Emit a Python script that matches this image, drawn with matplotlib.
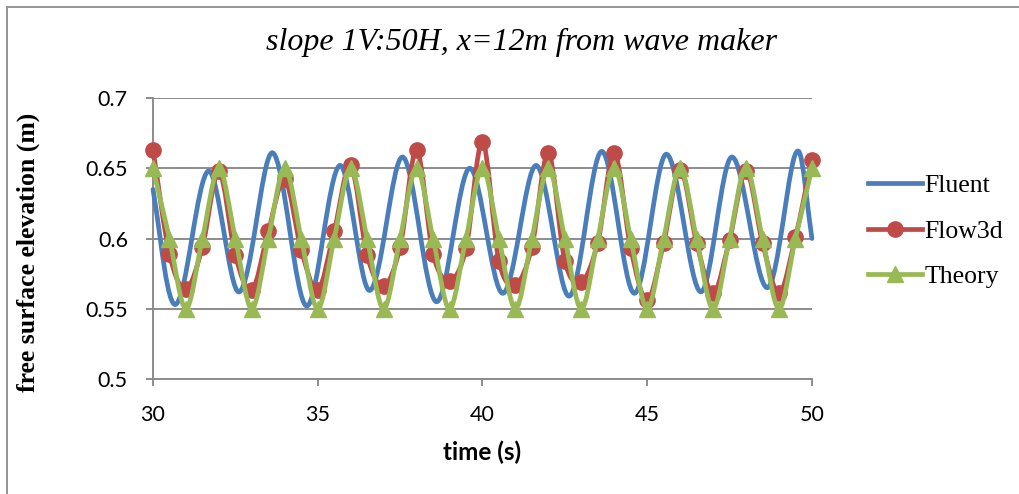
import numpy as np
import matplotlib
matplotlib.use("Agg")
import matplotlib.pyplot as plt
from matplotlib.path import Path
from matplotlib.patches import PathPatch, Rectangle
from matplotlib.lines import Line2D

# ----------------------------------------------------------------------
# Data
# ----------------------------------------------------------------------
# Fluent: crests, troughs and mean-level crossings of the simulated trace
fluent_t = [30.00, 30.22, 30.67, 31.18, 31.68, 32.15, 32.62, 33.13, 33.63, 34.15,
            34.66, 35.17, 35.67, 36.13, 36.58, 37.08, 37.58, 38.09, 38.60, 39.11,
            39.61, 40.12, 40.62, 41.13, 41.63, 42.14, 42.64, 43.13, 43.62, 44.12,
            44.61, 45.10, 45.58, 46.11, 46.63, 47.10, 47.57, 48.11, 48.65, 49.13,
            49.60, 50.00]
fluent_v = [0.635, 0.600, 0.553, 0.600, 0.648, 0.605, 0.562, 0.611, 0.661, 0.606,
            0.552, 0.602, 0.652, 0.607, 0.563, 0.610, 0.658, 0.606, 0.555, 0.602,
            0.650, 0.605, 0.561, 0.606, 0.652, 0.605, 0.559, 0.610, 0.662, 0.611,
            0.561, 0.610, 0.660, 0.611, 0.562, 0.610, 0.658, 0.611, 0.565, 0.613,
            0.662, 0.600]

# Flow3d and Theory: sampled every 0.5 s
sample_t = [30.0, 30.5, 31.0, 31.5, 32.0, 32.5, 33.0, 33.5, 34.0, 34.5,
            35.0, 35.5, 36.0, 36.5, 37.0, 37.5, 38.0, 38.5, 39.0, 39.5,
            40.0, 40.5, 41.0, 41.5, 42.0, 42.5, 43.0, 43.5, 44.0, 44.5,
            45.0, 45.5, 46.0, 46.5, 47.0, 47.5, 48.0, 48.5, 49.0, 49.5, 50.0]
flow3d_v = [0.663, 0.589, 0.564, 0.594, 0.648, 0.588, 0.563, 0.605, 0.642, 0.592,
            0.563, 0.605, 0.652, 0.588, 0.566, 0.594, 0.663, 0.589, 0.570, 0.593,
            0.669, 0.584, 0.567, 0.594, 0.661, 0.584, 0.569, 0.597, 0.661, 0.593,
            0.556, 0.597, 0.649, 0.597, 0.561, 0.599, 0.648, 0.597, 0.561, 0.601,
            0.656]
theory_v = [0.65, 0.60, 0.55, 0.60, 0.65, 0.60, 0.55, 0.60, 0.65, 0.60,
            0.55, 0.60, 0.65, 0.60, 0.55, 0.60, 0.65, 0.60, 0.55, 0.60,
            0.65, 0.60, 0.55, 0.60, 0.65, 0.60, 0.55, 0.60, 0.65, 0.60,
            0.55, 0.60, 0.65, 0.60, 0.55, 0.60, 0.65, 0.60, 0.55, 0.60,
            0.65]

x_ticks = [30, 35, 40, 45, 50]
y_ticks = [0.5, 0.55, 0.6, 0.65, 0.7]
y_tick_labels = ["0.5", "0.55", "0.6", "0.65", "0.7"]

C_FLUENT = "#4A7EBB"
C_FLOW3D = "#BE4B48"
C_THEORY = "#98B954"
C_GRID = "#8C8C8C"


def smooth_path(t, v, k=1.0):
    """Excel-like smoothed line: cubic Bezier through the points."""
    t = np.asarray(t, float)
    v = np.asarray(v, float)
    m = np.empty(len(t))
    m[1:-1] = k * (v[2:] - v[:-2]) / (t[2:] - t[:-2])
    m[0] = (v[1] - v[0]) / (t[1] - t[0])
    m[-1] = (v[-1] - v[-2]) / (t[-1] - t[-2])
    verts = [(t[0], v[0])]
    codes = [Path.MOVETO]
    for i in range(len(t) - 1):
        dt = t[i + 1] - t[i]
        verts += [(t[i] + dt / 3, v[i] + m[i] * dt / 3),
                  (t[i + 1] - dt / 3, v[i + 1] - m[i + 1] * dt / 3),
                  (t[i + 1], v[i + 1])]
        codes += [Path.CURVE4] * 3
    return Path(verts, codes)


fig = plt.figure(figsize=(10.2, 4.94), dpi=100)
ax = fig.add_axes([0.15, 0.2328, 0.646, 0.5688])

lw = 3.4
ax.add_patch(PathPatch(smooth_path(fluent_t, fluent_v, k=1.5), fill=False,
                       ec=C_FLUENT, lw=lw, capstyle="round", joinstyle="round",
                       zorder=3, clip_on=False))
ax.add_patch(PathPatch(smooth_path(sample_t, flow3d_v), fill=False,
                       ec=C_FLOW3D, lw=lw, capstyle="round", joinstyle="round",
                       zorder=4, clip_on=False))
ax.plot(sample_t, flow3d_v, "o", color=C_FLOW3D, ms=11, mec=C_FLOW3D,
        zorder=4.5, clip_on=False)
ax.add_patch(PathPatch(smooth_path(sample_t, theory_v), fill=False,
                       ec=C_THEORY, lw=lw, capstyle="round", joinstyle="round",
                       zorder=5, clip_on=False))
ax.plot(sample_t, theory_v, "^", color=C_THEORY, ms=12, mec=C_THEORY,
        zorder=5.5, clip_on=False)

ax.set_xlim(30, 50)
ax.set_ylim(0.5, 0.7)
ax.set_xticks(x_ticks)
ax.set_yticks(y_ticks)
ax.set_yticklabels(y_tick_labels)

ax.grid(True, axis="y", color=C_GRID, lw=1.4, zorder=1)
ax.set_axisbelow(True)
for s in ["top", "right"]:
    ax.spines[s].set_visible(False)
for s in ["left", "bottom"]:
    ax.spines[s].set_color(C_GRID)
    ax.spines[s].set_linewidth(1.4)
ax.tick_params(axis="both", direction="out", length=5, width=1.4, color=C_GRID,
               labelsize=15.5, labelcolor="black")
ax.tick_params(axis="y", pad=13)
ax.tick_params(axis="x", pad=14)
for lab in ax.get_xticklabels() + ax.get_yticklabels():
    lab.set_family("Lato")

ax.set_xlabel("time (s)", fontsize=17.5, fontweight="bold", family="Lato")
ax.xaxis.set_label_coords(0.5, -0.22)
ax.set_ylabel("free surface elevation (m)", fontsize=18.5, fontweight="bold",
              family="Liberation Serif")
ax.yaxis.set_label_coords(-0.171, 0.45)

fig.text(0.511, 0.913, "slope 1V:50H, x=12m from wave maker", ha="center",
         va="center", fontsize=23, style="italic", family="Liberation Serif")

handles = [Line2D([], [], color=C_FLUENT, lw=lw),
           Line2D([], [], color=C_FLOW3D, lw=lw, marker="o", ms=11),
           Line2D([], [], color=C_THEORY, lw=lw, marker="^", ms=12)]
fig.legend(handles, ["Fluent", "Flow3d", "Theory"], loc="center left",
           bbox_to_anchor=(0.828, 0.532), frameon=False, handlelength=2.1,
           handletextpad=0.12, labelspacing=0.88,
           prop={"family": "Liberation Serif", "size": 18.5})

# chart-area border (cut off at right and bottom in the reference)
fig.patches.append(Rectangle((7.5 / 1020, -0.1), 1.2, 1.1 - 7 / 494,
                             transform=fig.transFigure, fill=False,
                             ec="#8C8C8C", lw=1.3))

fig.savefig("out.png", dpi=100)
